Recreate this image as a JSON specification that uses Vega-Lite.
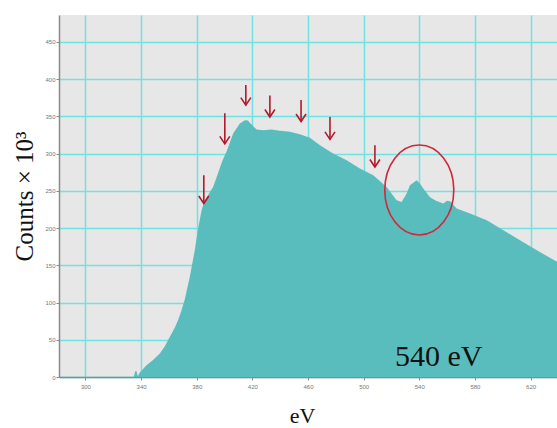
{
  "$schema": "https://vega.github.io/schema/vega-lite/v6.json",
  "width": 498,
  "height": 362,
  "autosize": {"type": "none"},
  "padding": {"left": 59, "top": 15, "right": 0, "bottom": 51},
  "background": "white",
  "config": {
    "view": {"fill": "#e7e7e7", "stroke": null},
    "axis": {
      "grid": true,
      "gridColor": "#6fe2e2",
      "gridWidth": 1.5,
      "domainColor": "#8a8a8a",
      "domainWidth": 1.5,
      "tickColor": "#8a8a8a",
      "tickSize": 3,
      "labelFontSize": 6,
      "labelColor": "#777777",
      "labelFlush": false,
      "titleFont": "Liberation Serif",
      "titleFontWeight": "normal",
      "titleColor": "#111111"
    }
  },
  "datasets": {
    "spectrum": [
      {"ev": 334.7, "counts": 0},
      {"ev": 335.8, "counts": 7.7},
      {"ev": 336.7, "counts": 8},
      {"ev": 337.6, "counts": 1},
      {"ev": 339.1, "counts": 6},
      {"ev": 343.9, "counts": 15.7},
      {"ev": 348.4, "counts": 22.4},
      {"ev": 353.5, "counts": 31.4},
      {"ev": 357.0, "counts": 41},
      {"ev": 360.6, "counts": 53.7},
      {"ev": 364.2, "counts": 66},
      {"ev": 366.5, "counts": 76},
      {"ev": 368.8, "counts": 88},
      {"ev": 371.4, "counts": 104},
      {"ev": 375.0, "counts": 134.3},
      {"ev": 378.6, "counts": 170.2},
      {"ev": 381.0, "counts": 199.4},
      {"ev": 383.5, "counts": 224},
      {"ev": 385.8, "counts": 237.4},
      {"ev": 391.8, "counts": 255.2},
      {"ev": 398.6, "counts": 291.1},
      {"ev": 401.4, "counts": 302.3},
      {"ev": 406.2, "counts": 327},
      {"ev": 411.0, "counts": 340.4},
      {"ev": 414.6, "counts": 344.8},
      {"ev": 416.8, "counts": 344.2},
      {"ev": 418.2, "counts": 341.2},
      {"ev": 423.0, "counts": 332.3},
      {"ev": 427.8, "counts": 331.4},
      {"ev": 433.8, "counts": 332.3},
      {"ev": 439.8, "counts": 330.5},
      {"ev": 447.0, "counts": 329.1},
      {"ev": 454.2, "counts": 326},
      {"ev": 461.4, "counts": 321.3},
      {"ev": 468.6, "counts": 311.3},
      {"ev": 478.1, "counts": 300.1},
      {"ev": 487.8, "counts": 291.1},
      {"ev": 497.3, "counts": 280},
      {"ev": 506.9, "counts": 271},
      {"ev": 516.5, "counts": 255.2},
      {"ev": 523.7, "counts": 237.4},
      {"ev": 527.3, "counts": 235.1},
      {"ev": 530.9, "counts": 246.4},
      {"ev": 533.3, "counts": 257.5},
      {"ev": 538.1, "counts": 264.2},
      {"ev": 540.5, "counts": 259.8},
      {"ev": 542.7, "counts": 253.5},
      {"ev": 547.7, "counts": 241.4},
      {"ev": 552.0, "counts": 236.7},
      {"ev": 557.3, "counts": 232.9},
      {"ev": 559.9, "counts": 236.7},
      {"ev": 562.1, "counts": 236},
      {"ev": 566.9, "counts": 226.2},
      {"ev": 576.5, "counts": 219.5},
      {"ev": 588.5, "counts": 210.5},
      {"ev": 600.4, "counts": 197.1},
      {"ev": 612.4, "counts": 183.6},
      {"ev": 624.5, "counts": 170.2},
      {"ev": 639.1, "counts": 154.5}
    ],
    "arrows": [
      {"ev": 385.1, "top": 271, "tip": 233},
      {"ev": 400.2, "top": 354, "tip": 313},
      {"ev": 415.3, "top": 392, "tip": 365},
      {"ev": 432.6, "top": 378, "tip": 349},
      {"ev": 455.0, "top": 372, "tip": 343},
      {"ev": 475.8, "top": 349, "tip": 319},
      {"ev": 508.1, "top": 311, "tip": 282}
    ],
    "peak": [
      {"ev": 540, "counts": 251}
    ],
    "caption": [
      {"text": "540 eV", "ev": 554, "counts": 15}
    ]
  },
  "layer": [
    {
      "data": {"name": "spectrum"},
      "mark": {"type": "area", "color": "#5abdbd", "opacity": 1, "interpolate": "linear"},
      "encoding": {
        "x": {
          "field": "ev",
          "type": "quantitative",
          "scale": {"domain": [281, 639], "nice": false, "zero": false},
          "axis": {
            "values": [300, 320, 340, 360, 380, 400, 420, 440, 460, 480, 500, 520, 540, 560, 580, 600, 620, 640],
            "labelPadding": 3,
            "title": "eV",
            "titleFontSize": 22,
            "titleAlign": "center",
            "titleBaseline": "alphabetic",
            "titleX": 243,
            "titleY": 45
          }
        },
        "y": {
          "field": "counts",
          "type": "quantitative",
          "scale": {"domain": [0, 486], "nice": false},
          "axis": {
            "values": [0, 50, 100, 150, 200, 250, 300, 350, 400, 450],
            "labelPadding": 1,
            "title": "Counts × 10³",
            "titleFontSize": 25,
            "titleAngle": -90,
            "titleAlign": "center",
            "titleBaseline": "alphabetic",
            "titleX": -27,
            "titleY": 181
          }
        }
      }
    },
    {
      "mark": {"type": "rule", "color": "#999999", "strokeWidth": 2.5},
      "encoding": {"y": {"datum": 486}}
    },
    {
      "data": {"name": "arrows"},
      "mark": {"type": "rule", "color": "#b3192b", "strokeWidth": 1.6},
      "encoding": {
        "x": {"field": "ev", "type": "quantitative"},
        "y": {"field": "top", "type": "quantitative"},
        "y2": {"field": "tip"}
      }
    },
    {
      "data": {"name": "arrows"},
      "mark": {
        "type": "point",
        "shape": "M-1,-1.5L0,0L1,-1.5",
        "filled": false,
        "size": 100,
        "stroke": "#b3192b",
        "strokeWidth": 1.6,
        "opacity": 1
      },
      "encoding": {
        "x": {"field": "ev", "type": "quantitative"},
        "y": {"field": "tip", "type": "quantitative"}
      }
    },
    {
      "data": {"name": "peak"},
      "mark": {
        "type": "point",
        "shape": "M0.767,0C0.767,0.5523,0.4236,1,0,1C-0.4236,1,-0.767,0.5523,-0.767,0C-0.767,-0.5523,-0.4236,-1,0,-1C0.4236,-1,0.767,-0.5523,0.767,0Z",
        "filled": false,
        "size": 8100,
        "stroke": "#d0283a",
        "strokeWidth": 1.6,
        "opacity": 1
      },
      "encoding": {
        "x": {"field": "ev", "type": "quantitative"},
        "y": {"field": "counts", "type": "quantitative"}
      }
    },
    {
      "data": {"name": "caption"},
      "mark": {
        "type": "text",
        "font": "Liberation Serif",
        "fontSize": 30,
        "color": "#111111",
        "align": "center",
        "baseline": "alphabetic"
      },
      "encoding": {
        "x": {"field": "ev", "type": "quantitative"},
        "y": {"field": "counts", "type": "quantitative"},
        "text": {"field": "text"}
      }
    }
  ]
}
